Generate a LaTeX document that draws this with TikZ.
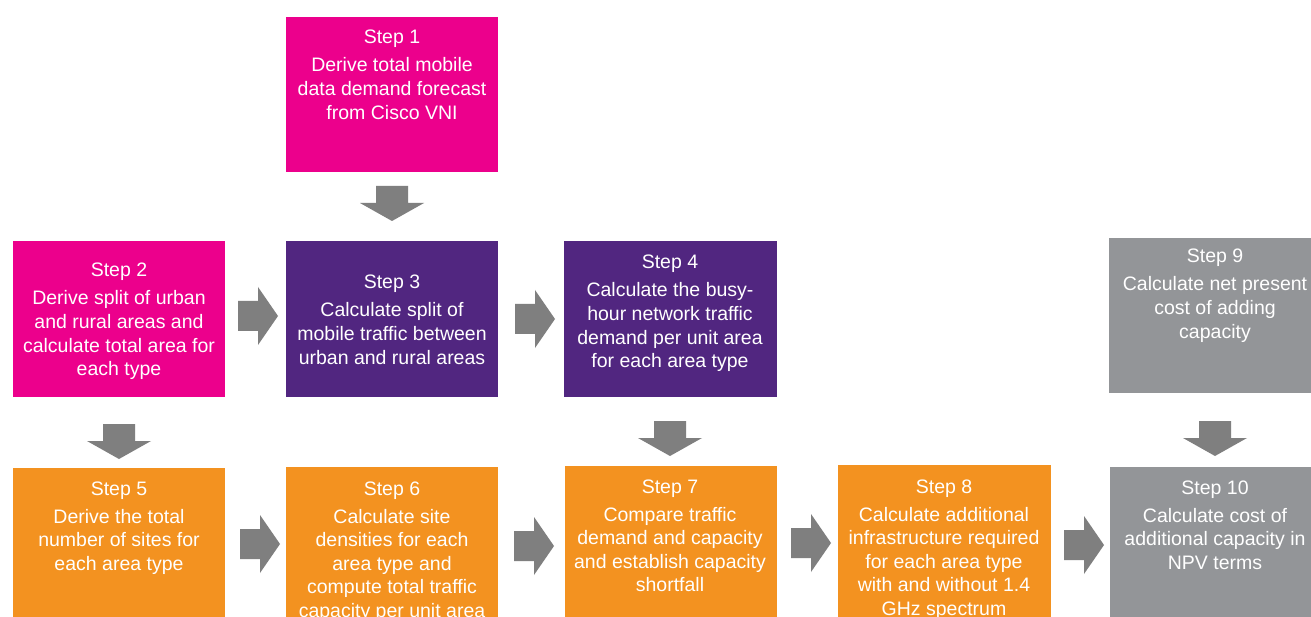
\documentclass[tikz,border=0pt]{standalone}
\usepackage{fontspec}
\setmainfont{Liberation Sans}
\definecolor{cmag}{HTML}{EC008C}
\definecolor{cpur}{HTML}{512680}
\definecolor{corg}{HTML}{F39220}
\definecolor{cgry}{HTML}{939598}
\definecolor{carr}{HTML}{7F7F7F}
\newcommand\steptext[2]{\begin{tabular}[t]{@{}c@{}}#1\\[4.4pt]#2\end{tabular}}
\begin{document}
\begin{tikzpicture}[x=1pt,y=-1pt,
  box/.style={draw=none,inner sep=0,minimum width=212,minimum height=155},
  txt/.style={text=white,font=\fontsize{19.5}{23.6}\selectfont,anchor=base,inner sep=0},
  rarr/.pic={\fill[carr] (0,-15)--(20,-15)--(20,-29)--(40,0)--(20,29)--(20,15)--(0,15)--cycle;},
  darr/.pic={\fill[carr] (-16,0)--(16,0)--(16,17)--(32,17)--(0,35)--(-32,17)--(-16,17)--cycle;}]
\clip (0,0) rectangle (1311,617);
\fill[white] (0,0) rectangle (1311,617);
% boxes
\node[box,fill=cmag] (s1) at (392,94.5) {};
\node[box,fill=cmag,minimum height=156] (s2) at (119,319) {};
\node[box,fill=cpur,minimum height=156] (s3) at (392,319) {};
\node[box,fill=cpur,minimum height=156,minimum width=213] (s4) at (670.5,319) {};
\node[box,fill=cgry] (s9) at (1215,315.5) {};
\node[box,fill=corg,minimum height=172] (s5) at (119,554) {};
\node[box,fill=corg,minimum height=173] (s6) at (392,553.5) {};
\node[box,fill=corg,minimum height=174] (s7) at (671,553) {};
\node[box,fill=corg,minimum height=175,minimum width=213] (s8) at (944.5,552.5) {};
\node[box,fill=cgry,minimum height=173] (s10) at (1216,553.5) {};
% texts
\node[txt] (t1) at (392,44) {\steptext{Step 1}{Derive total mobile\\data demand forecast\\from Cisco VNI}};
\node[txt] (t2) at (119,277) {\steptext{Step 2}{Derive split of urban\\and rural areas and\\calculate total area for\\each type}};
\node[txt] (t3) at (392,289) {\steptext{Step 3}{Calculate split of\\mobile traffic between\\urban and rural areas}};
\node[txt] (t4) at (670,269) {\steptext{Step 4}{Calculate the busy-\\hour network traffic\\demand per unit area\\for each area type}};
\node[txt] (t9) at (1215,263) {\steptext{Step 9}{Calculate net present\\cost of adding\\capacity}};
\node[txt] (t5) at (119,495) {\steptext{Step 5}{Derive the total\\number of sites for\\each area type}};
\node[txt] (t6) at (392,495) {\steptext{Step 6}{Calculate site\\densities for each\\area type and\\compute total traffic\\capacity per unit area}};
\node[txt] (t7) at (670,493) {\steptext{Step 7}{Compare traffic\\demand and capacity\\and establish capacity\\shortfall}};
\node[txt] (t8) at (944,493) {\steptext{Step 8}{Calculate additional\\infrastructure required\\for each area type\\with and without 1.4\\GHz spectrum}};
\node[txt] (t10) at (1215,494) {\steptext{Step 10}{Calculate cost of\\additional capacity in\\NPV terms}};
% arrows
\pic at (392,186) {darr};
\pic at (119,424) {darr};
\pic at (670,421) {darr};
\pic at (1215,421) {darr};
\pic at (238,316) {rarr};
\pic at (515,319) {rarr};
\pic at (240,544) {rarr};
\pic at (514,546) {rarr};
\pic at (791,543) {rarr};
\pic at (1064,545) {rarr};
\end{tikzpicture}
\end{document}
